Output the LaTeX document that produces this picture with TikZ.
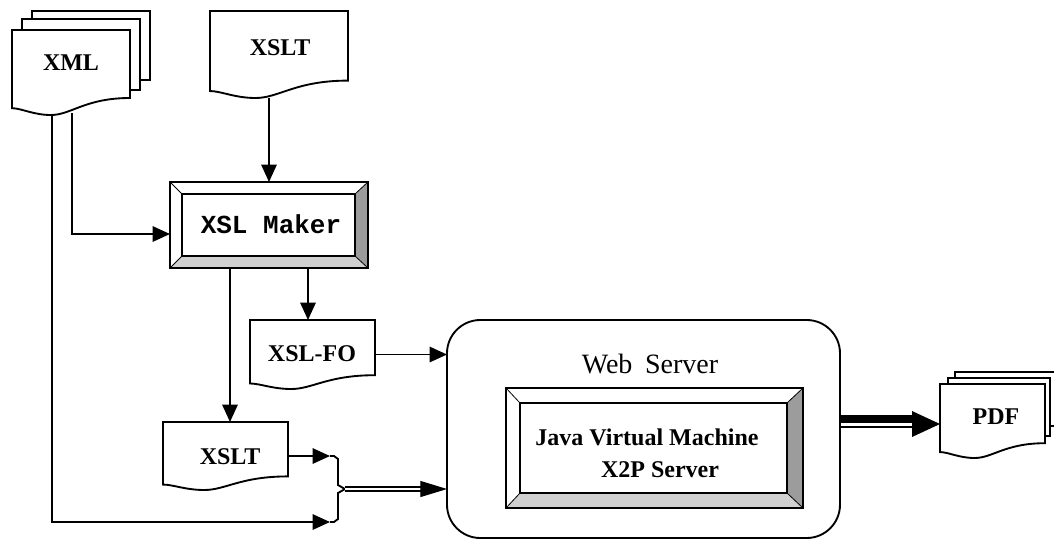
\documentclass[tikz,border=0pt]{standalone}
\usepackage{fontspec}
\setmainfont{Liberation Serif}
\setmonofont{Liberation Mono}
\usetikzlibrary{arrows.meta,calc,fit}

% document symbol: flat top, wavy bottom
\newcommand\docoutline[1]{%
  \draw[docline] let \p1=(#1.north west), \p2=(#1.south east),
      \n1={\x2-\x1}, \n2={\y1-\y2} in
    (\p1) -- (\x2,\y1) -- (\x2,{\y1-0.8*\n2})
    .. controls ({\x1+0.62*\n1},{\y1-0.8*\n2}) and ({\x1+0.5*\n1},\y2) .. ({\x1+0.33*\n1},\y2)
    .. controls ({\x1+0.18*\n1},\y2) and ({\x1+0.08*\n1},{\y1-0.92*\n2}) .. (\x1,{\y1-0.92*\n2})
    -- cycle;}

% raised bevelled frame: #1 outer area, #2 inner area
\newcommand\bevelframe[2]{%
  \draw[line, fill=white] (#1.north west) rectangle (#1.south east);
  \fill[bevdark] (#1.north east) -- (#1.south east) -- (#2.south east) -- (#2.north east) -- cycle;
  \fill[bevlight] (#1.south west) -- (#1.south east) -- (#2.south east) -- (#2.south west) -- cycle;
  \draw[line width=0.6pt] (#1.north west) -- (#2.north west) (#1.north east) -- (#2.north east)
    (#1.south west) -- (#2.south west) (#1.south east) -- (#2.south east);
  \draw[line] (#2.north west) rectangle (#2.south east);
  \draw[line] (#1.north west) rectangle (#1.south east);}

\definecolor{bevdark}{HTML}{9C9C9C}
\definecolor{bevlight}{HTML}{D0D0D0}

\begin{document}
\begin{tikzpicture}[x=0.75pt,y=-0.75pt,
  line/.style={line width=1.4pt},
  arr/.style={line, -{Triangle[length=13pt,width=11.5pt]}},
  docline/.style={line, fill=white},
  area/.style={inner sep=0pt, outer sep=0pt},
  doctext/.style={font=\fontsize{18}{21}\selectfont\bfseries, inner sep=0pt},
  makertext/.style={font=\ttfamily\bfseries\fontsize{19.5}{22}\selectfont, inner sep=0pt},
  webtext/.style={font=\fontsize{21}{25}\selectfont, inner sep=0pt},
  jvmtext/.style={font=\bfseries\fontsize{18}{22}\selectfont, inner sep=0pt}]
\useasboundingbox (0,0) rectangle (1054,540);
\clip (0,0) rectangle (1054,540);

% ---- XML document stack
\draw[docline] (32,11) rectangle (150,80);
\draw[docline] (22,19) rectangle (140,90);
\node[area, fit={(12,30) (130,115)}] (xml) {};
\docoutline{xml}
\node[doctext] (xmlt) at (71,63) {XML};

% ---- XSLT stylesheet
\node[area, fit={(210,11) (348,98)}] (xslt) {};
\docoutline{xslt}
\node[doctext] (xsltt) at (280,48) {XSLT};

% ---- XSL Maker
\node[area, fit={(170,182) (368,268)}] (xslm) {};
\node[area, fit={(182,194) (355,256)}] (xslmin) {};
\bevelframe{xslm}{xslmin}
\node[makertext] (xslmt) at (271,224) {XSL Maker};

% ---- XSL-FO
\node[area, fit={(250,320) (375,389)}] (xslfo) {};
\docoutline{xslfo}
\node[doctext] (xslfot) at (312,354) {XSL-FO};

% ---- generated XSLT
\node[area, fit={(163,422) (288,490)}] (xsltl) {};
\docoutline{xsltl}
\node[doctext] (xsltlt) at (230,457) {XSLT};

% ---- Web server with JVM
\node[area, fit={(447,320) (840,538)}, draw, line width=1.4pt, rounded corners=25pt] (web) {};
\node[webtext] (webt) at (650,364) {Web\hspace{0.45em}Server};
\node[area, fit={(506,388) (803,508)}] (jvm) {};
\node[area, fit={(520,403) (787,493)}] (jvmin) {};
\bevelframe{jvm}{jvmin}
\node[jvmtext] (jvmt1) at (647,437) {Java Virtual Machine};
\node[jvmtext] (jvmt2) at (660,470) {X2P Server};

% ---- PDF stack
\draw[docline] (955,372) rectangle (1062,426);
\draw[docline] (948,378) rectangle (1050,436);
\node[area, fit={(940,384) (1045,458)}] (pdf) {};
\docoutline{pdf}
\node[doctext] (pdft) at (996,417) {PDF};

% ---- connectors
\coordinate (brTop) at (330,456);
\coordinate (brBot) at (330,522);
\coordinate (brTip) at (345,489);

\draw[arr] ($(xml.south)+(1,-2)$) |- ($(xslm.west)+(0,9)$);
\draw[arr] ($(xml.south)+(-19,0)$) |- (brBot);
\draw[arr] (xslm.north |- xslt.south) -- (xslm.north);

\coordinate (m2f) at ($(xslm.south)+(39,0)$);
\coordinate (m2x) at ($(xslm.south)+(-39,0)$);
\draw[arr] (m2f) -- (m2f |- xslfo.north);
\draw[arr] (m2x) -- (m2x |- xsltl.north);

\draw[arr] (xslfo.east) -- (xslfo.east -| web.west);
\draw[arr] (xsltl.east) -- (brTop);

% brace joining both inputs
\draw[line] (brTop) -- ++(4,0) -- ++(4,3) -- ++(0,26) -- (brTip);
\draw[line] (brBot) -- ++(4,0) -- ++(4,-3) -- ++(0,-26) -- (brTip);

% double line into the web server
\coordinate (wIn) at (web.west |- brTip);
\draw[line width=0.9pt, double distance=2pt] (brTip) -- ($(wIn)+(-15,0)$);
\draw[line width=0.9pt, -{Triangle[length=20pt,width=12pt]}] ($(wIn)+(-20,0)$) -- (wIn);

% heavy output arrow to PDF
\coordinate (pIn) at ($(pdf.west)+(0,3)$);
\coordinate (wOut) at (web.east |- pIn);
\draw[line width=6pt] ($(wOut)+(0,-5)$) -- ($(pIn)+(-26,-5)$);
\draw[line width=1.5pt] ($(wOut)+(0,2.5)$) -- ($(pIn)+(-26,2.5)$);
\fill ($(pIn)+(-28,-13)$) -- (pIn) -- ($(pIn)+(-28,13)$) -- cycle;
\end{tikzpicture}
\end{document}
